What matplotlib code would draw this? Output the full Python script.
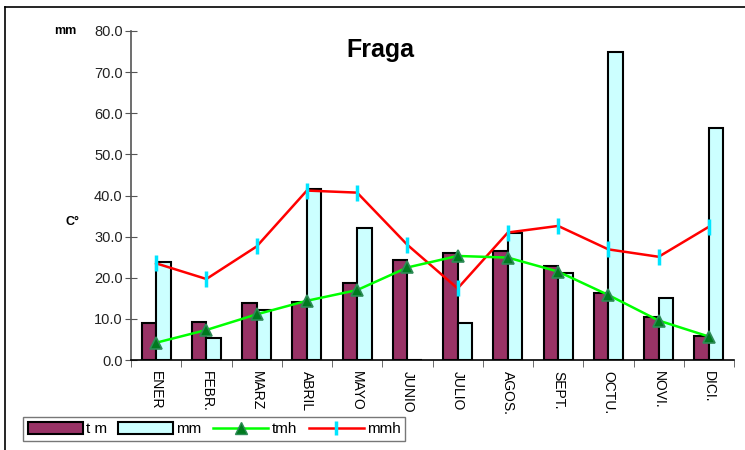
import matplotlib
matplotlib.use("Agg")
import matplotlib.pyplot as plt
import numpy as np
from matplotlib.lines import Line2D
from matplotlib.patches import Patch

months = ["ENER", "FEBR.", "MARZ", "ABRIL", "MAYO", "JUNIO", "JULIO",
          "AGOS.", "SEPT.", "OCTU.", "NOVI.", "DICI."]
tm = [8.9, 9.3, 13.9, 14.2, 18.8, 24.3, 25.9, 26.6, 22.9, 16.2, 10.5, 5.8]
mm = [23.8, 5.3, 12.2, 41.7, 32.0, 0.0, 9.1, 31.0, 21.2, 74.8, 15.0, 56.5]
tmh = [4.2, 7.3, 11.1, 14.4, 17.0, 22.5, 25.3, 24.9, 21.5, 15.8, 9.6, 5.7]
mmh = [23.5, 19.7, 27.6, 41.2, 40.7, 28.0, 17.4, 31.0, 32.6, 26.9, 25.1, 32.4]
yticks = [0, 10, 20, 30, 40, 50, 60, 70, 80]

plt.rcParams['font.family'] = ['Liberation Sans', 'DejaVu Sans']

W, H = 745, 450
fig = plt.figure(figsize=(W / 100, H / 100), dpi=100)
ax = fig.add_axes([131 / W, 1 - 360 / H, (734 - 131) / W, (360 - 31) / H])

x = np.arange(len(months))
bw = 0.29
ax.bar(x - bw / 2, tm, bw, color='#993366', edgecolor='black', linewidth=1.5, zorder=2)
ax.bar(x + bw / 2, mm, bw, color='#CCFFFF', edgecolor='black', linewidth=1.5, zorder=2)
ax.plot(x, tmh, color='#00FF00', linewidth=1.8, marker='^', markersize=9,
        markerfacecolor='#007A1F', markeredgecolor='#2E8B57', markeredgewidth=1.2, zorder=4)
ax.plot(x, mmh, color='#FF0000', linewidth=1.8, marker='|', markersize=12,
        markeredgecolor='#00E5FF', markeredgewidth=2.5, zorder=3)

ax.set_xlim(-0.5, len(months) - 0.5)
ax.set_ylim(0, 80)
ax.set_yticks(yticks)
ax.set_yticklabels([f"{v:.1f}" for v in yticks], fontsize=10.5, color='#222222')
ax.tick_params(axis='y', direction='inout', length=8, color='#555555', pad=2)
ax.set_xticks(x)
ax.set_xticklabels(months, rotation=270, fontsize=10, va='top', ha='center')
ax.tick_params(axis='x', which='major', length=0, pad=8)
ax.set_xticks(np.arange(len(months) + 1) - 0.5, minor=True)
ax.tick_params(axis='x', which='minor', direction='out', length=5, color='#555555')
for s in ['top', 'right']:
    ax.spines[s].set_visible(False)
ax.spines['left'].set_color('#555555')
ax.spines['left'].set_linewidth(1.2)
ax.spines['bottom'].set_color('black')
ax.spines['bottom'].set_linewidth(1.2)

fig.text(380 / W, 1 - 50 / H, "Fraga", fontsize=18, fontweight='bold', ha='center', va='center')
fig.text(65 / W, 1 - 31 / H, "mm", fontsize=9, fontweight='bold', ha='center', va='center')
fig.text(72 / W, 1 - 222 / H, "C°", fontsize=9, fontweight='bold', ha='center', va='center')

# outer frame
fig.add_artist(Line2D([5 / W, 5 / W], [0, 1 - 7 / H], color='black', linewidth=1.2,
                      transform=fig.transFigure))
fig.add_artist(Line2D([5 / W, 1], [1 - 7 / H, 1 - 7 / H], color='black', linewidth=1.2,
                      transform=fig.transFigure))

handles = [
    Patch(facecolor='#993366', edgecolor='black', linewidth=1.5),
    Patch(facecolor='#CCFFFF', edgecolor='black', linewidth=1.5),
    Line2D([], [], color='#00FF00', linewidth=1.8, marker='^', markersize=8,
           markerfacecolor='#007A1F', markeredgecolor='#2E8B57'),
    Line2D([], [], color='#FF0000', linewidth=1.8, marker='|', markersize=10,
           markeredgecolor='#00E5FF', markeredgewidth=2.5),
]
leg = fig.legend(handles, ["t m", "mm", "tmh", "mmh"], loc='lower left',
                 bbox_to_anchor=(23 / W, 1 - 441 / H, (405 - 23) / W, 28 / H),
                 mode='expand', ncol=4, fontsize=11, frameon=True, fancybox=False,
                 handlelength=3.6, handleheight=0.9, handletextpad=0.2, columnspacing=0.6,
                 borderpad=0.3, borderaxespad=0)
leg.get_frame().set_edgecolor('#555555')
leg.get_frame().set_linewidth(1.0)

fig.savefig("out.png", dpi=100)
